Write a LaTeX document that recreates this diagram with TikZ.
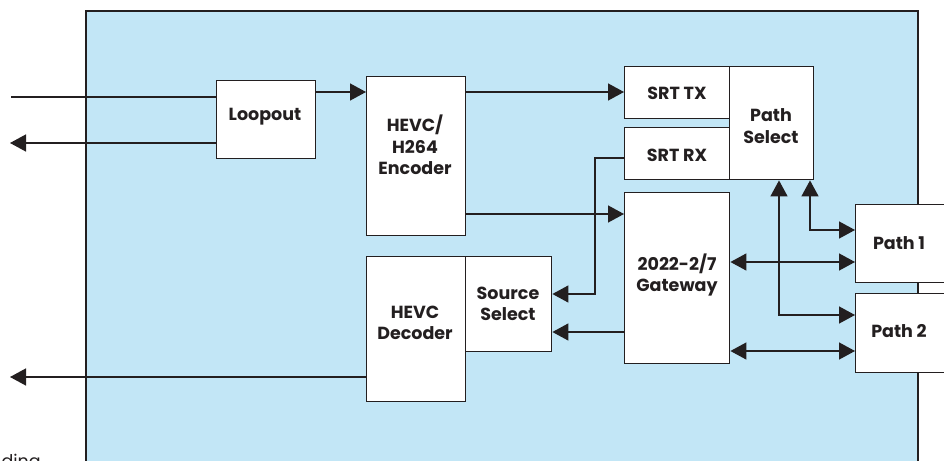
\documentclass[tikz,border=0pt]{standalone}
\usepackage{fontspec}
\setmainfont{Poppins}
\usetikzlibrary{arrows.meta}
\definecolor{bgblue}{HTML}{C2E6F6}
\definecolor{ink}{HTML}{231F20}
\tikzset{
  blk/.style={draw=ink, line width=1.4pt, fill=white, inner sep=0pt, anchor=north west},
  lbl/.style={font=\fontsize{17.5}{21.5}\selectfont\bfseries, text=ink, align=center},
  conn/.style={draw=ink, line width=1.4pt},
  tip/.style={-{Triangle[length=16pt,width=17pt]}},
  tips/.style={{Triangle[length=16pt,width=17pt]}-{Triangle[length=16pt,width=17pt]}},
}
\newcommand{\blkat}[5]{% name, x1, y1, x2, y2
  \node[blk, minimum width={(#4-#2)*1pt}, minimum height={(#5-#3)*1pt}] (#1) at (#2,#3) {};}
\begin{document}
\begin{tikzpicture}[x=1pt,y=-1pt]
\useasboundingbox (0,0) rectangle (944,460);
\clip (0,0) rectangle (944,460);
% main area
\fill[bgblue] (86,11) rectangle (918,480);
\draw[ink, line width=1.6pt] (86,480) -- (86,11) -- (918,11) -- (918,480);
% blocks
\blkat{loop}{216}{80}{315}{158}
\blkat{enc}{366}{76}{465}{235}
\blkat{dec}{366}{256}{465}{401}
\blkat{src}{465}{256}{551}{351}
\blkat{tx}{624}{66}{729}{118}
\blkat{rx}{624}{127}{729}{179}
\blkat{ps}{729}{66}{813}{179}
\blkat{gw}{624}{192}{729}{363}
\blkat{p1}{855}{204}{960}{282}
\blkat{p2}{855}{293}{960}{372}
% labels
\node[lbl] (tloop) at (265,117) {Loopout};
\node[lbl] (tenc) at (415,145) {HEVC/\\H264\\Encoder};
\node[lbl] (tdec) at (415,323) {HEVC\\Decoder};
\node[lbl] (tsrc) at (508,304) {Source\\Select};
\node[lbl] (ttx) at (677,93) {SRT TX};
\node[lbl] (trx) at (677,155) {SRT RX};
\node[lbl] (tps) at (771,126) {Path\\Select};
\node[lbl] (tgw) at (677,275) {2022-2/7\\Gateway};
\node[lbl] (tp1) at (899,243) {Path 1};
\node[lbl] (tp2) at (899,331) {Path 2};
\node[font=\fontsize{17.5}{21}\selectfont, text=ink, anchor=base west] (ding) at (-2,467) {ding};
% free ends
\coordinate (inL) at (11,97);
\coordinate (outL) at (10,143);
\coordinate (decL) at (10,377);
% connectors
\draw[conn] (inL) -- (inL -| loop.west);
\draw[conn, tip] (loop.west |- outL) -- (outL);
\draw[conn, tip] (loop.east |- 0,92) -- (enc.west |- 0,92);
\draw[conn, tip] (enc.east |- 0,92) -- (tx.west |- 0,92);
\draw[conn, tip] (enc.east |- 0,214) -- (gw.west |- 0,214);
\draw[conn, tip] (rx.west |- 0,158) -- (595,158) -- (595,294) -- (src.east |- 0,294);
\draw[conn, tip] (gw.west |- 0,332) -- (src.east |- 0,332);
\draw[conn, tip] (dec.west |- decL) -- (decL);
\draw[conn, tips] (ps.south -| 810,0) -- (810,230) -- (p1.west |- 0,230);
\draw[conn, tips] (ps.south -| 779,0) -- (779,315) -- (p2.west |- 0,315);
\draw[conn, tips] (gw.east |- 0,262) -- (p1.west |- 0,262);
\draw[conn, tips] (gw.east |- 0,351) -- (p2.west |- 0,351);
\end{tikzpicture}
\end{document}
